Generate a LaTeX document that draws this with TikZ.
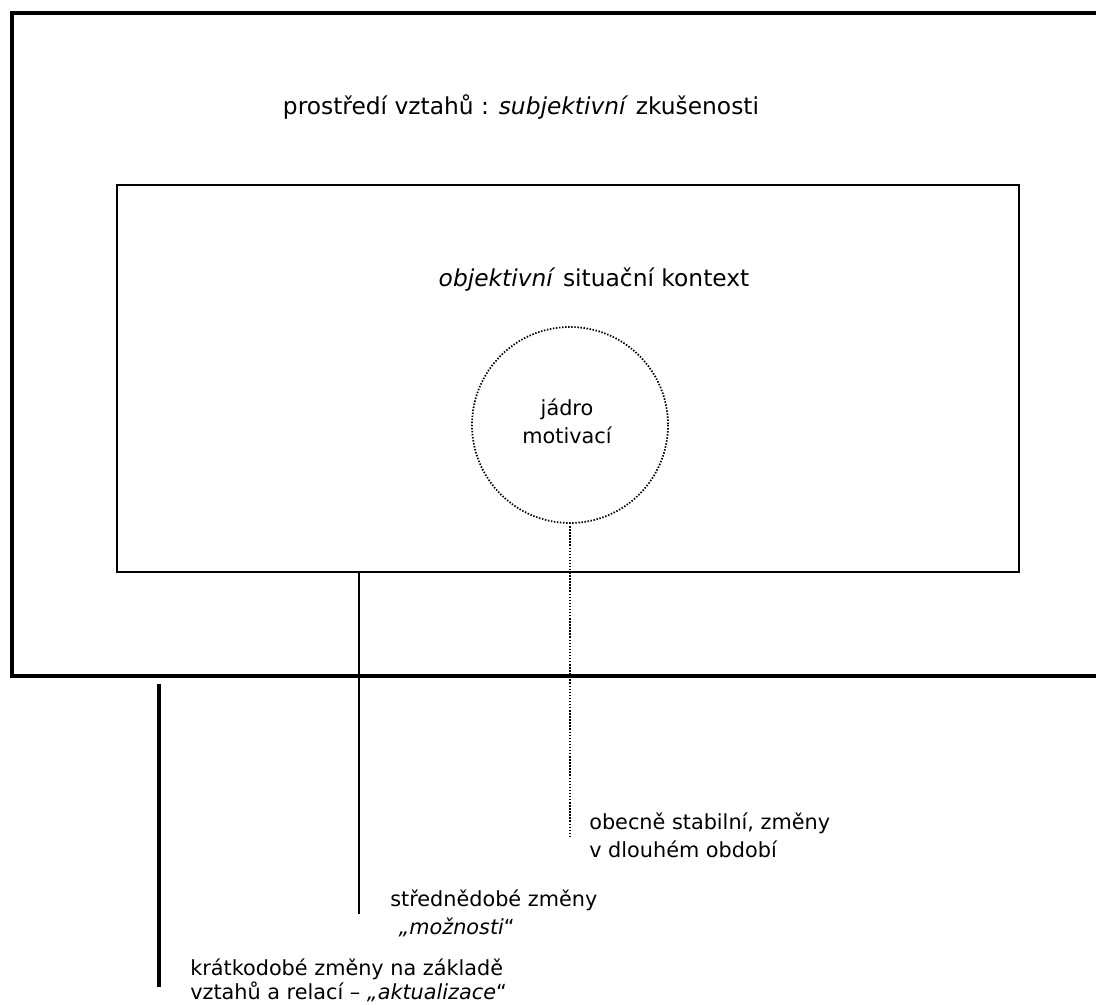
\documentclass[tikz,border=0pt]{standalone}
\usepackage{fontspec}
\setmainfont{DejaVu Sans}
\begin{document}
\begin{tikzpicture}[x=0.75pt,y=-0.75pt,
  frame/.style={draw=black,line width=3pt},
  box/.style={draw=black,line width=1.5pt},
  solidlink/.style={draw=black,line width=1.5pt},
  thicklink/.style={draw=black,line width=3pt},
  dotlink/.style={draw=black,line width=1.3pt,dash pattern=on 1.1pt off 1.2pt},
  note/.style={inner sep=0pt,font=\fontsize{15.6}{21}\selectfont,align=left},
  heading/.style={inner sep=0pt,font=\fontsize{17.5}{21}\selectfont}]
\useasboundingbox (0,0) rectangle (1096,1005);
% outer frame, open to the right
\draw[frame] (1100,13) -- (12,13) -- (12,676) -- (1100,676);
\node[heading,anchor=base] (envtitle) at (521,115) {prostředí vztahů : \textit{subjektivní} zkušenosti};
% inner context box
\draw[box] (117,185) rectangle (1019,572);
\coordinate (boxbottomA) at (359,572);
\node[heading,anchor=base] (ctxtitle) at (594,287) {\textit{objektivní} situační kontext};
% core circle
\draw[dotlink] (570,425) circle [radius=98];
\coordinate (circbottom) at (570,523);
\node[note,align=center,anchor=base] (core) at (567,444) {jádro\\motivací};
% long-term line
\coordinate (longend) at (570,837);
\draw[dotlink] (circbottom) -- (longend);
\node[note,anchor=base west] (longtxt) at (589,857) {obecně stabilní, změny\\v dlouhém období};
% mid-term line
\coordinate (midend) at (359,914);
\draw[solidlink] (boxbottomA) -- (midend);
\node[note,anchor=base west] (midtxt) at (390,934) {střednědobé změny\\\hspace*{0.4em}\textit{„možnosti}“};
% short-term line
\coordinate (shorttop) at (159,684);
\coordinate (shortend) at (159,987);
\draw[thicklink] (shorttop) -- (shortend);
\node[note,anchor=base west,font=\fontsize{15.6}{18}\selectfont] (shorttxt) at (190,999) {krátkodobé změny na základě\\vztahů a relací – \textit{„aktualizace}“};
\end{tikzpicture}
\end{document}
